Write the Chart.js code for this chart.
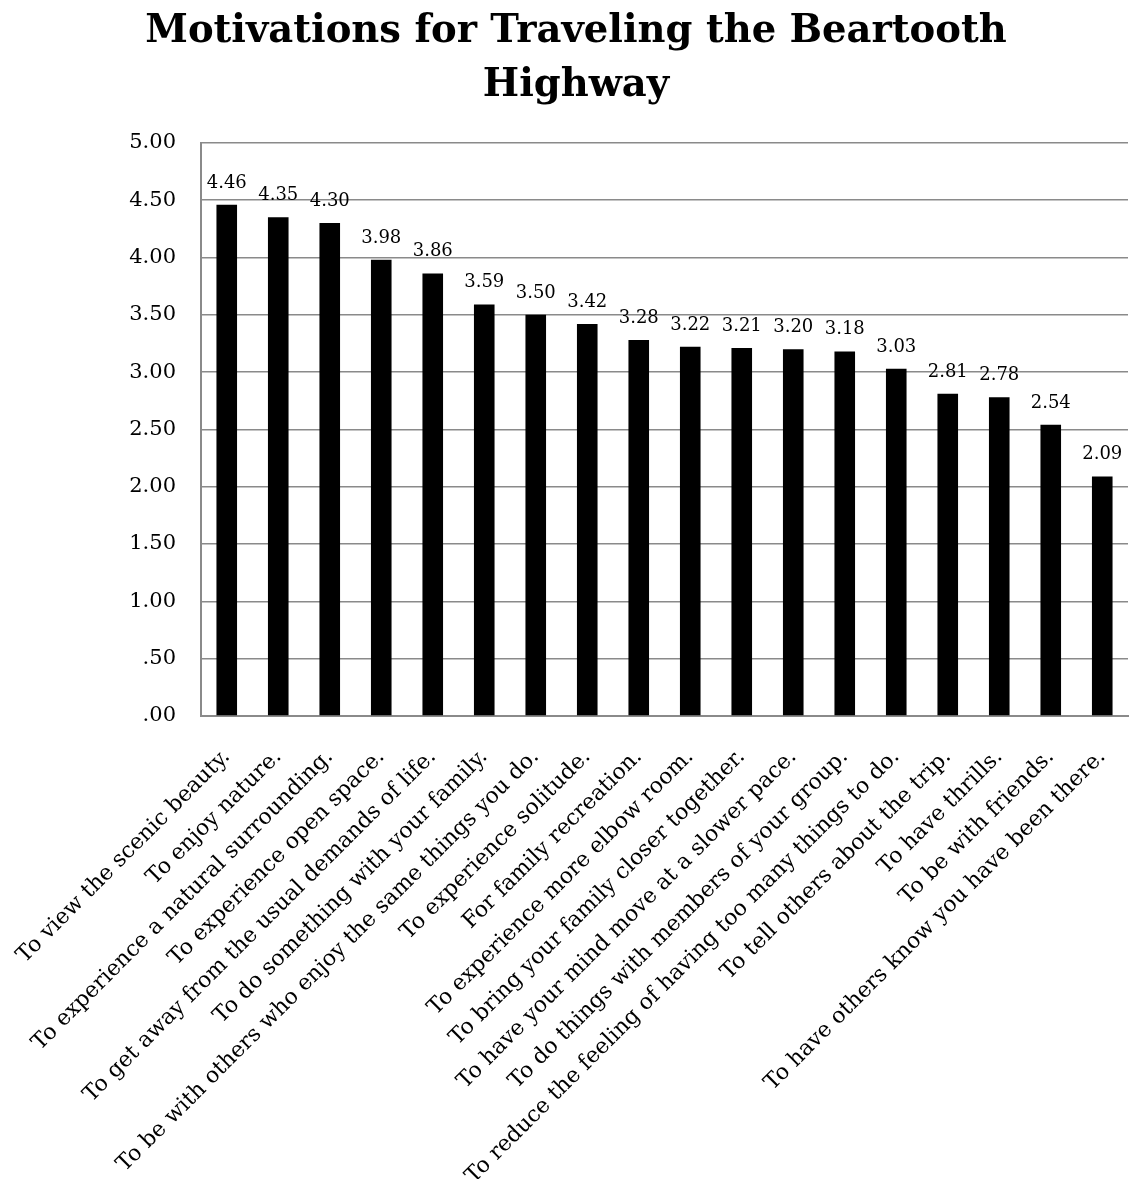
<!DOCTYPE html>
<html>
<head>
<meta charset="utf-8">
<script src="https://cdn.jsdelivr.net/npm/chart.js@4/dist/chart.umd.min.js"></script>
<style>
html,body{margin:0;padding:0;background:#fff;}
#wrap{width:1133px;height:1179px;position:relative;}
</style>
</head>
<body>
<div id="wrap"><canvas id="c" width="1133" height="1179"></canvas></div>
<script>
const categories = [
  "To view the scenic beauty.",
  "To enjoy nature.",
  "To experience a natural surrounding.",
  "To experience open space.",
  "To get away from the usual demands of life.",
  "To do something with your family.",
  "To be with others who enjoy the same things you do.",
  "To experience solitude.",
  "For family recreation.",
  "To experience more elbow room.",
  "To bring your family closer together.",
  "To have your mind move at a slower pace.",
  "To do things with members of your group.",
  "To reduce the feeling of having too many things to do.",
  "To tell others about the trip.",
  "To have thrills.",
  "To be with friends.",
  "To have others know you have been there."
];
const values = [4.46, 4.35, 4.30, 3.98, 3.86, 3.59, 3.50, 3.42, 3.28, 3.22, 3.21, 3.20, 3.18, 3.03, 2.81, 2.78, 2.54, 2.09];
const titleLines = ["Motivations for Traveling the Beartooth", "Highway"];

const SERIF = "'DejaVu Serif', 'Liberation Serif', serif";

const valueLabels = {
  id: 'valueLabels',
  afterDatasetsDraw(chart) {
    const ctx = chart.ctx;
    const meta = chart.getDatasetMeta(0);
    ctx.save();
    ctx.font = "18px " + SERIF;
    ctx.fillStyle = "#000";
    ctx.textAlign = "center";
    ctx.textBaseline = "alphabetic";
    meta.data.forEach((el, i) => {
      ctx.fillText(values[i].toFixed(2), el.x, el.y - 17);
    });
    ctx.restore();
  }
};

new Chart(document.getElementById('c'), {
  type: 'bar',
  data: {
    labels: categories,
    datasets: [{
      data: values,
      backgroundColor: '#000',
      borderWidth: 0,
      barPercentage: 0.40,
      categoryPercentage: 1.0
    }]
  },
  options: {
    responsive: false,
    animation: false,
    devicePixelRatio: 1,
    layout: { padding: { left: 24, right: 5, top: 0, bottom: 0 } },
    plugins: {
      legend: { display: false },
      tooltip: { enabled: false },
      title: {
        display: true,
        text: titleLines,
        color: '#000',
        font: { family: SERIF, size: 38.5, weight: 'bold', lineHeight: 1.4 },
        padding: { top: 5, bottom: 30 }
      }
    },
    scales: {
      x: {
        grid: { display: false, drawTicks: false },
        border: { display: true, color: '#8a8a8a', width: 2 },
        afterFit: (s) => { s.height = 463; s.paddingLeft = 0; s.paddingRight = 0; },
        ticks: {
          color: '#000',
          font: { family: SERIF, size: 22 },
          maxRotation: 45,
          minRotation: 45,
          autoSkip: false,
          padding: 28
        }
      },
      y: {
        min: 0,
        max: 5,
        afterFit: (s) => { s.width = 177; s.paddingTop = 0; s.paddingBottom = 0; },
        grid: { color: '#8a8a8a', lineWidth: 1.5, drawTicks: false },
        border: { display: true, color: '#8a8a8a', width: 2 },
        ticks: {
          stepSize: 0.5,
          color: '#000',
          font: { family: SERIF, size: 21 },
          padding: 25,
          callback: (v) => { let s = Number(v).toFixed(2); return s.startsWith('0') ? s.slice(1) : s; }
        }
      }
    }
  },
  plugins: [valueLabels]
});
</script>
</body>
</html>
